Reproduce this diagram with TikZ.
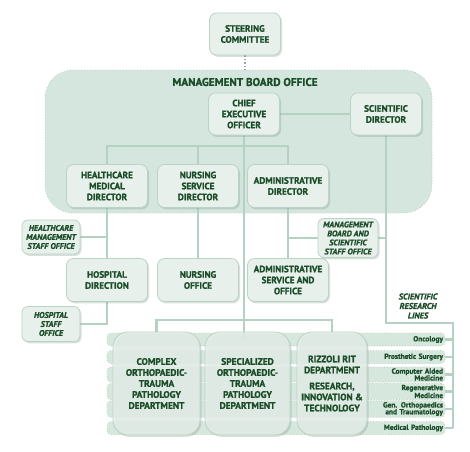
\documentclass[tikz,border=0pt]{standalone}
\usepackage{fontspec}
\setmainfont[BoldFeatures={FakeBold=1.2},BoldItalicFeatures={FakeBold=1.2}]{PT Sans}
\usetikzlibrary{shadows}
\definecolor{txt}{HTML}{1A4D28}
\definecolor{mbofill}{HTML}{D4E6DD}
\definecolor{boxfill}{HTML}{E7F0EB}
\definecolor{boxdraw}{HTML}{B9D3C5}
\definecolor{linecol}{HTML}{B3D2C1}
\definecolor{stripfill}{HTML}{D6E7DE}
\pgfdeclarelayer{bg}
\pgfdeclarelayer{lines}
\pgfsetlayers{bg,lines,main}
\begin{document}
\begin{tikzpicture}[x=1pt,y=-1pt,
  shadowed/.style={drop shadow={shadow xshift=1.5pt,shadow yshift=-1.8pt,fill=boxdraw!70!black,opacity=0.3}},
  box/.style={draw=boxdraw,line width=0.8pt,fill=boxfill,rounded corners=7pt,align=center,
    font=\bfseries\fontsize{9.2}{11}\selectfont,text=txt,minimum width=81pt,minimum height=43pt,inner sep=1pt,shadowed},
  smallbox/.style={box,minimum width=71pt,minimum height=42pt},
  staff/.style={box,font=\bfseries\itshape\fontsize{8.2}{9}\selectfont,minimum width=58pt,minimum height=34pt,rounded corners=6pt},
  dept/.style={draw=boxdraw,line width=0.8pt,fill=boxfill,fill opacity=0.8,text opacity=1,rounded corners=15pt,
    align=center,font=\bfseries\fontsize{9.4}{11}\selectfont,text=txt,minimum height=103pt,inner sep=1pt,shadowed},
  strip/.style={draw=boxdraw,dotted,line width=0.8pt,fill=stripfill,rounded corners=4pt,minimum width=338pt,
    minimum height=13pt,inner sep=1.5pt,text width=334pt,align=right,text=txt,font=\bfseries\fontsize{7.4}{6.8}\selectfont},
  conn/.style={draw=linecol,line width=2.2pt},
  title/.style={font=\bfseries\fontsize{11.2}{13}\selectfont,text=txt,inner sep=0pt}
]
\useasboundingbox (0,0) rectangle (470,451);
\begin{pgfonlayer}{bg}
% management board office
\node[draw=boxdraw,dotted,line width=0.8pt,fill=mbofill,rounded corners=28pt,minimum width=387pt,minimum height=143pt,inner sep=0pt] (mbo) at (238.5,141.5) {};
\node[title] (mbotitle) at (245,82) {MANAGEMENT BOARD OFFICE};
% research line strips
\node[strip] (s1) at (276,339.5) {Oncology};
\node[strip] (s2) at (276,357) {Prosthetic Surgery};
\node[strip] (s3) at (276,374.5) {Computer Aided\\Medicine};
\node[strip] (s4) at (276,391.5) {Regenerative\\Medicine};
\node[strip] (s5) at (276,409) {Gen. Orthopaedics\\and Traumatology};
\node[strip] (s6) at (276,428) {Medical Pathology};
\end{pgfonlayer}
% nodes
\node[smallbox] (steer) at (245,34) {STEERING\\COMMITTEE};
\node[smallbox] (ceo) at (244,114) {CHIEF\\EXECUTIVE\\OFFICER};
\node[smallbox] (sd) at (386,114) {SCIENTIFIC\\DIRECTOR};
\node[box] (hmd) at (107,186) {HEALTHCARE\\MEDICAL\\DIRECTOR};
\node[box] (nsd) at (198,186) {NURSING\\SERVICE\\DIRECTOR};
\node[box] (ad) at (288,186) {ADMINISTRATIVE\\DIRECTOR};
\node[box] (hd) at (107,280) {HOSPITAL\\DIRECTION};
\node[box] (no) at (198,280) {NURSING\\OFFICE};
\node[box] (aso) at (288,280) {ADMINISTRATIVE\\SERVICE AND\\OFFICE};
\node[staff] (hmso) at (51,237) {HEALTHCARE\\MANAGEMENT\\STAFF OFFICE};
\node[staff,minimum height=35pt] (hso) at (51,324) {HOSPITAL\\STAFF\\OFFICE};
\node[staff,minimum width=60pt,minimum height=39pt] (mbso) at (348,238) {MANAGEMENT\\BOARD AND\\SCIENTIFIC\\STAFF OFFICE};
\node[font=\bfseries\itshape\fontsize{8.4}{9.5}\selectfont,text=txt,align=center,inner sep=0pt] (srl) at (418,306) {SCIENTIFIC\\RESEARCH\\LINES};
\coordinate (rl) at (453,323);
\coordinate (rlb) at (453,428);
\node[dept,minimum width=87pt] (comp) at (156.5,383.5) {COMPLEX\\ORTHOPAEDIC-\\TRAUMA\\PATHOLOGY\\DEPARTMENT};
\node[dept,minimum width=85pt] (spec) at (247.5,383.5) {SPECIALIZED\\ORTHOPAEDIC-\\TRAUMA\\PATHOLOGY\\DEPARTMENT};
\node[dept,minimum width=70pt] (rit) at (332,383.5) {RIZZOLI RIT\\DEPARTMENT\\[5pt]RESEARCH,\\INNOVATION \&\\TECHNOLOGY};
% connectors
\begin{pgfonlayer}{lines}
\draw[draw=boxdraw!80!black,line width=1.5pt,dotted] (steer.south) -- (steer.south |- mbo.north);
\draw[conn] (ceo.east) -- (sd.west);
\draw[conn] (ceo.south) -- ++(0,206);
\draw[conn] (hmd.north) -- ++(0,-18) -| (ad.north);
\draw[conn] (nsd.north) -- ++(0,-18);
\draw[conn] (comp.north) -- ++(0,-12) -| (rit.north);
\draw[conn] (hmd.south) -- (hd.north);
\draw[conn] (hd.south) |- (hso.east);
\draw[conn] (hmso.east) -- (hmso.east -| hmd.south);
\draw[conn] (nsd.south) -- (no.north);
\draw[conn] (ad.south) -- (aso.north);
\draw[conn] (mbso.west) -- (mbso.west -| ad.south);
\draw[conn] (mbso.east) -- (mbso.east -| sd.south);
\draw[conn] (sd.south) |- (rl) -- (rlb);
\foreach \s in {s1,s2,s3,s4,s5,s6} \draw[conn] (\s.east) -- (\s.east -| rl);
\end{pgfonlayer}
\end{tikzpicture}
\end{document}
